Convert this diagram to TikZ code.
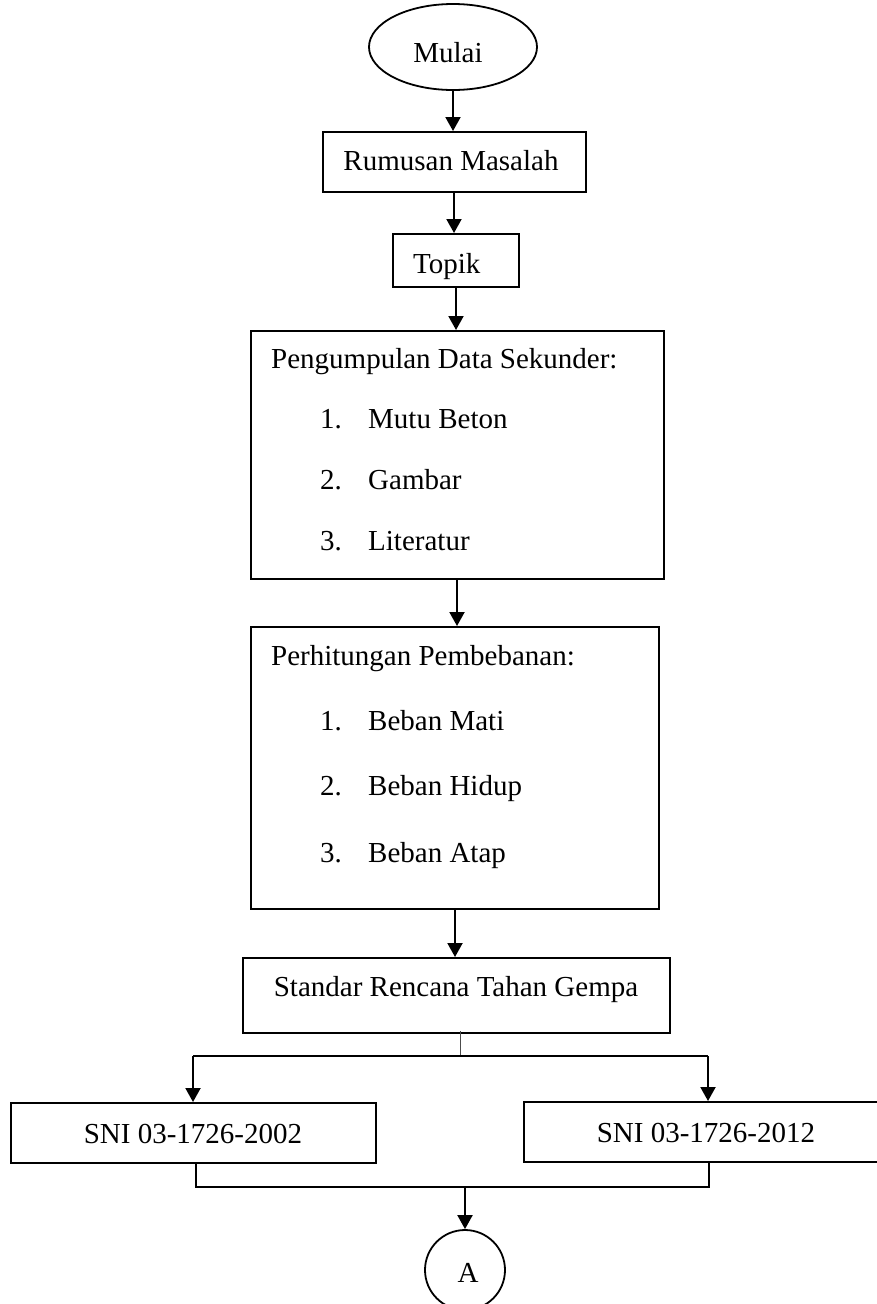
\documentclass[tikz,border=0pt]{standalone}
\usepackage{fontspec}
\setmainfont{Liberation Serif}
\usetikzlibrary{arrows.meta,shapes.geometric}
\begin{document}
\begin{tikzpicture}[x=1pt,y=-1pt,
  box/.style={draw,line width=2pt,inner sep=0pt},
  txt/.style={font=\fontsize{29}{34}\selectfont,inner sep=0pt,anchor=base},
  txtl/.style={txt,anchor=base west},
  arr/.style={line width=2pt,-{Triangle[length=14pt,width=15pt]}},
  link/.style={line width=1.6pt},
  stub/.style={line width=1pt,draw=black!70}]
\useasboundingbox (0,0) rectangle (877,1304);

% shapes
\node[draw,ellipse,line width=1.8pt,inner sep=0pt,minimum width=168pt,minimum height=86pt] (mulai) at (453,47) {};
\node[box,minimum width=263pt,minimum height=60pt] (rum) at (454,162) {};
\node[box,minimum width=126pt,minimum height=53pt] (topik) at (456,260.5) {};
\node[box,minimum width=413pt,minimum height=248pt] (peng) at (457,455) {};
\node[box,minimum width=408pt,minimum height=282pt] (perh) at (455,768) {};
\node[box,minimum width=427pt,minimum height=75pt] (std) at (456,995.5) {};
\node[box,minimum width=365pt,minimum height=60pt] (sni02) at (193.5,1133) {};
\node[box,minimum width=356pt,minimum height=60pt] (sni12) at (702,1132) {};
\node[draw,circle,line width=1.8pt,inner sep=0pt,minimum size=80pt] (conA) at (465,1270) {};

% texts
\node[txt] (tmulai) at (448,62) {Mulai};
\node[txt] (trum) at (451,170) {Rumusan Masalah};
\node[txtl] (ttopik) at (413,273) {Topik};
\node[txtl] (tpeng) at (271,368) {Pengumpulan Data Sekunder:};
\node[txtl] (pn1) at (320,428) {1.};
\node[txtl] (pi1) at (368,428) {Mutu Beton};
\node[txtl] (pn2) at (320,489) {2.};
\node[txtl] (pi2) at (368,489) {Gambar};
\node[txtl] (pn3) at (320,550) {3.};
\node[txtl] (pi3) at (368,550) {Literatur};
\node[txtl] (tperh) at (271,665) {Perhitungan Pembebanan:};
\node[txtl] (hn1) at (320,730) {1.};
\node[txtl] (hi1) at (368,730) {Beban Mati};
\node[txtl] (hn2) at (320,795) {2.};
\node[txtl] (hi2) at (368,795) {Beban Hidup};
\node[txtl] (hn3) at (320,862) {3.};
\node[txtl] (hi3) at (368,862) {Beban Atap};
\node[txt] (tstd) at (456,996) {Standar Rencana Tahan Gempa};
\node[txt] (tsni02) at (193,1143) {SNI 03-1726-2002};
\node[txt] (tsni12) at (706,1142) {SNI 03-1726-2012};
\node[txt] (tA) at (468,1282) {A};

% main chain
\draw[arr] (mulai.south) -- (mulai.south |- rum.north);
\draw[arr] (rum.south) -- (rum.south |- topik.north);
\draw[arr] (topik.south) -- (topik.south |- peng.north);
\draw[arr] (peng.south) -- (peng.south |- perh.north);
\draw[arr] (perh.south) -- (perh.south |- std.north);

% split into the two standards
\coordinate (splitC) at (460,1056);
\coordinate (splitL) at (193,1056);
\coordinate (splitR) at (708,1056);
\draw[stub] ([xshift=4pt,yshift=3pt]std.south) -- (splitC);
\draw[line width=2pt] (splitL) -- (splitR);
\draw[arr] (splitL) -- (splitL |- sni02.north);
\draw[arr] (splitR) -- (splitR |- sni12.north);

% merge into connector A
\coordinate (mergeL) at (196,1187);
\coordinate (mergeR) at (709,1187);
\draw[link] (mergeL |- sni02.south) -- (mergeL) -- (mergeR) -- (mergeR |- sni12.south);
\draw[arr] (conA.north |- mergeL) -- (conA.north);
\end{tikzpicture}
\end{document}
